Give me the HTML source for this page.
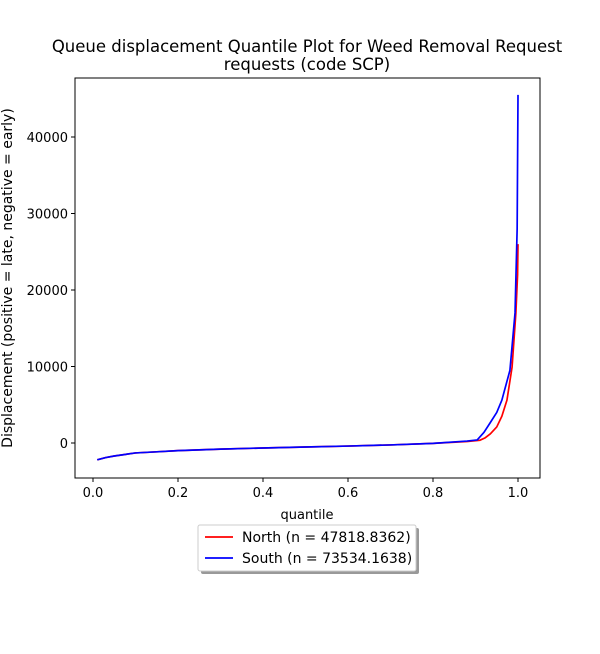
<!DOCTYPE html>
<html><head><meta charset="utf-8"><style>
body{margin:0;background:#fff;font-family:"DejaVu Sans","Liberation Sans",sans-serif;}
</style></head><body>
<svg id="chart" width="600" height="650" viewBox="0 0 600 650" xmlns="http://www.w3.org/2000/svg">
<rect width="600" height="650" fill="#fff"/>
<text x="307" y="52" text-anchor="middle" font-size="16.5">Queue displacement Quantile Plot for Weed Removal Request</text>
<text x="307" y="70" text-anchor="middle" font-size="16.5">requests (code SCP)</text>
<g id="plot"></g>
<rect x="75" y="78" width="465" height="400" fill="none" stroke="#000" stroke-width="1"/>
<text x="307" y="519" text-anchor="middle" font-size="13">quantile</text>
<text transform="translate(12,278) rotate(-90)" text-anchor="middle" font-size="14">Displacement (positive = late, negative = early)</text>
<g>
<rect x="201" y="528" width="218" height="46" rx="2" fill="#555" opacity="0.6"/>
<rect x="198" y="525" width="218" height="46" rx="2" fill="#fff" stroke="#ccc"/>
<line x1="205" y1="537" x2="233" y2="537" stroke="red" stroke-width="1.7"/>
<text x="242" y="542" font-size="14">North (n = 47818.8362)</text>
<line x1="205" y1="558" x2="233" y2="558" stroke="blue" stroke-width="1.7"/>
<text x="242" y="563" font-size="14">South (n = 73534.1638)</text>
</g>
</svg>
<script>
const xTicks=[0,0.2,0.4,0.6,0.8,1.0];
const yTicks=[0,10000,20000,30000,40000];
const northQ=[0.01,0.03,0.05,0.075,0.1,0.15,0.2,0.3,0.4,0.5,0.6,0.7,0.8,0.88,0.91,0.922,0.935,0.95,0.962,0.974,0.986,0.995,0.999,1.0];
const northV=[-2200,-1900,-1700,-1500,-1300,-1150,-1000,-800,-650,-520,-400,-250,-50,200,350,650,1200,2100,3500,5600,9900,17000,22000,26000];
const southQ=[0.01,0.03,0.05,0.075,0.1,0.15,0.2,0.3,0.4,0.5,0.6,0.7,0.8,0.88,0.904,0.92,0.934,0.95,0.962,0.981,0.993,0.998,1.0];
const southV=[-2200,-1900,-1700,-1500,-1300,-1150,-1000,-800,-650,-520,-400,-250,-50,250,400,1400,2600,4000,5600,9500,17000,28000,45500];
const NS="http://www.w3.org/2000/svg";
const xS=q=>93+q*425;
const yS=v=>443-v*0.00765;
const plot=document.getElementById('plot');
function mk(t,a){const e=document.createElementNS(NS,t);for(const k in a)e.setAttribute(k,a[k]);return e;}
xTicks.forEach(t=>{
  const g=mk('g',{});
  
  
  g.appendChild(mk('line',{x1:xS(t),x2:xS(t),y1:478,y2:482,stroke:'#000'}));
  const tx=mk('text',{x:xS(t),y:497,'text-anchor':'middle','font-size':'13'});tx.textContent=t.toFixed(1);g.appendChild(tx);
  plot.appendChild(g);
});
yTicks.forEach(t=>{
  const g=mk('g',{});
  
  
  g.appendChild(mk('line',{x1:71,x2:75,y1:yS(t),y2:yS(t),stroke:'#000'}));
  const tx=mk('text',{x:68,y:yS(t)+5,'text-anchor':'end','font-size':'13'});tx.textContent=t;g.appendChild(tx);
  plot.appendChild(g);
});
function line(q,v,c,name){
  const p=mk('polyline',{points:q.map((x,i)=>xS(x)+','+yS(v[i])).join(' '),fill:'none',stroke:c,'stroke-width':'1.7','stroke-linejoin':'round'});
  
  
  plot.appendChild(p);
}
line(northQ,northV,'red','north-series');
line(southQ,southV,'blue','south-series');
</script>
</body></html>
